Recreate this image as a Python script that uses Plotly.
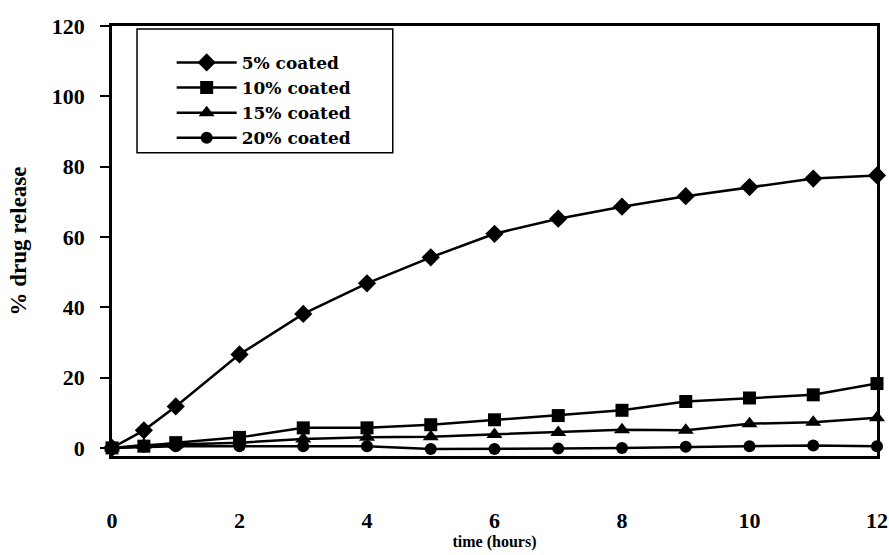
import plotly.graph_objects as go

time_hours = [0, 0.5, 1, 2, 3, 4, 5, 6, 7, 8, 9, 10, 11, 12]
coated_5 = [0, 5.0, 11.8, 26.6, 38.1, 46.8, 54.2, 60.9, 65.2, 68.6, 71.6, 74.2, 76.6, 77.5]
coated_10 = [0, 0.5, 1.5, 3.0, 5.7, 5.7, 6.6, 8.0, 9.2, 10.7, 13.2, 14.2, 15.1, 18.3]
coated_15 = [0, 0.8, 1.0, 1.5, 2.5, 3.0, 3.2, 3.8, 4.4, 5.2, 5.0, 6.9, 7.3, 8.6]
coated_20 = [0, 0.3, 0.5, 0.5, 0.5, 0.5, -0.3, -0.3, -0.2, 0.0, 0.3, 0.5, 0.7, 0.5]

series_names = ["5% coated", "10% coated", "15% coated", "20% coated"]
series_values = [coated_5, coated_10, coated_15, coated_20]
symbols = ["diamond", "square", "triangle-up", "circle"]
sizes = [14, 13, 14, 12]

x_ticks = [0, 2, 4, 6, 8, 10, 12]
y_ticks = [0, 20, 40, 60, 80, 100, 120]

FONT = "Liberation Serif"
LEGEND_FONT = "DejaVu Serif"

fig = go.Figure()
for name, vals, sym, sz in zip(series_names, series_values, symbols, sizes):
    fig.add_trace(go.Scatter(
        x=time_hours, y=vals, name=name, mode="lines+markers",
        line=dict(color="black", width=2.5),
        marker=dict(symbol=sym, size=sz, color="black"),
        cliponaxis=False,
    ))

fig.update_layout(
    template="none",
    width=889, height=555,
    margin=dict(l=112, r=12, t=26, b=99),
    paper_bgcolor="white", plot_bgcolor="white",
    font=dict(family=FONT, color="black", size=18, weight="bold"),
    showlegend=True,
    legend=dict(
        x=0.078, y=0.956, xanchor="left", yanchor="top",
        bgcolor="rgba(0,0,0,0)", borderwidth=0,
        font=dict(family=LEGEND_FONT, size=17, color="black", weight="bold"),
        itemwidth=60,
    ),
    shapes=[dict(
        type="rect", xref="paper", yref="paper",
        x0=0.0327, x1=0.367, y0=0.705, y1=0.993,
        line=dict(color="black", width=1.5), fillcolor="rgba(0,0,0,0)",
        layer="below",
    )],
    xaxis=dict(
        range=[0, 12], tickvals=x_ticks, ticktext=[str(v) for v in x_ticks],
        showgrid=False, zeroline=False, automargin=False,
        showline=True, mirror=True, linecolor="black", linewidth=2.5,
        ticks="", ticklabelstandoff=43,
        tickfont=dict(family=FONT, size=22, weight="bold"),
        title=dict(text="time (hours)", standoff=2,
                   font=dict(family=FONT, size=16, weight="bold")),
    ),
    yaxis=dict(
        range=[-2.3, 120], tickvals=y_ticks, ticktext=[str(v) for v in y_ticks],
        showgrid=False, zeroline=False, automargin=False,
        showline=True, mirror=True, linecolor="black", linewidth=2.5,
        ticks="outside", ticklen=9, tickwidth=2, tickcolor="black",
        ticklabelstandoff=11,
        tickfont=dict(family=FONT, size=22, weight="bold"),
        title=dict(text="% drug release", standoff=19,
                   font=dict(family=FONT, size=23, weight="bold")),
    ),
)

fig.write_html(
    "out.html",
    config={"displayModeBar": False},
    post_script="document.body.style.margin='0';document.body.style.overflow='hidden';",
)
